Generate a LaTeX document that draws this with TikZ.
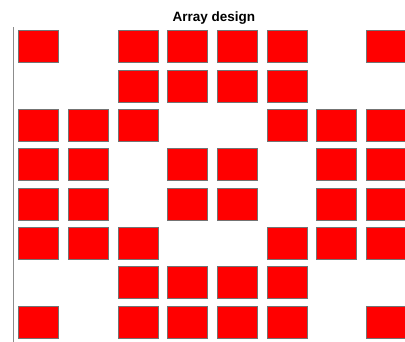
\documentclass[tikz,border=0pt]{standalone}
\usepackage{fontspec}
\setmainfont{Liberation Sans}
\usepackage{tikz}

\begin{document}
\begin{tikzpicture}[
  x=1pt, y=-1pt,
  cell/.style={draw=black!55, fill=red, line width=0.7pt, inner sep=0pt,
    minimum width=40pt, minimum height=32pt},
  axisline/.style={draw=black!45, line width=1pt}
]
  \clip (0,0) rectangle (405,341);
  \node[font=\bfseries\fontsize{13.5}{15}\selectfont, anchor=base] (title) at (213.8,21) {Array design};
  \coordinate (axtop) at (13.6,27);
  \coordinate (axbot) at (13.6,345);
  \draw[axisline] (axtop) -- (axbot);
  % row/column of each element
  \foreach \r/\cols in {1/{1,3,4,5,6,8}, 2/{3,4,5,6}, 3/{1,2,3,6,7,8},
      4/{1,2,4,5,7,8}, 5/{1,2,4,5,7,8}, 6/{1,2,3,6,7,8},
      7/{3,4,5,6}, 8/{1,3,4,5,6,8}}
    \foreach \c in \cols
      \node[cell] (e-\r-\c) at ({38.5+(\c-1)*49.7}, {46.7+(\r-1)*39.33}) {};
\end{tikzpicture}
\end{document}
